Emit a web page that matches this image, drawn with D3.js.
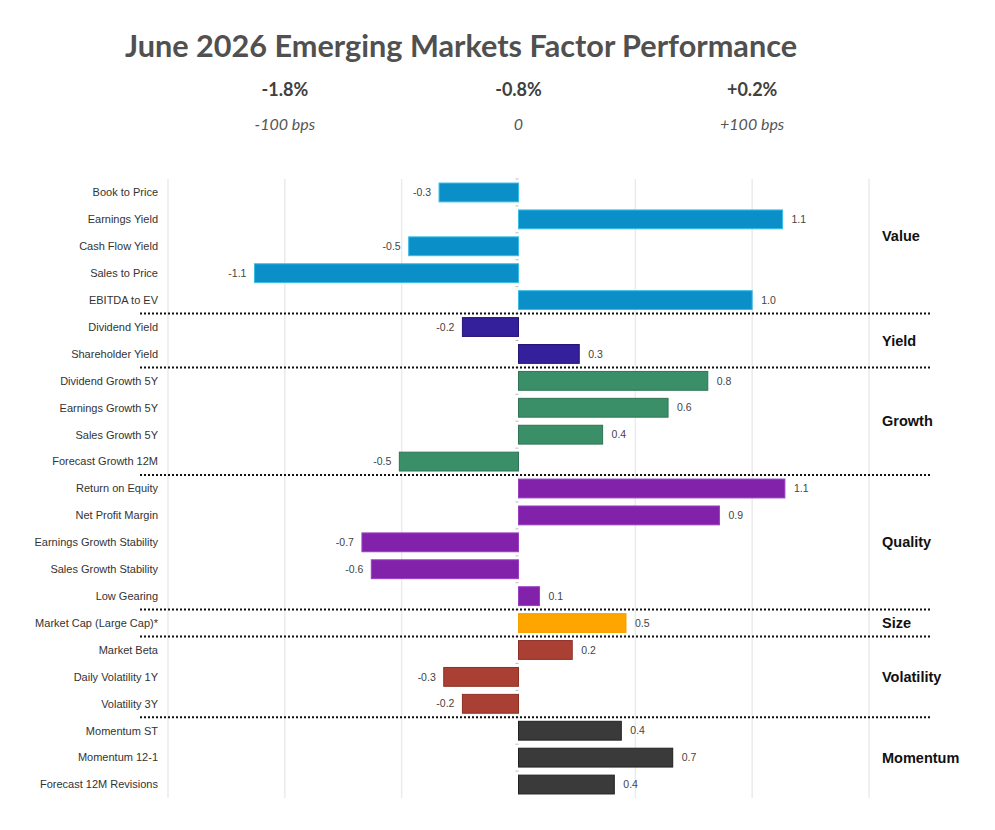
<!DOCTYPE html>
<html>
<head>
<meta charset="utf-8">
<script src="https://cdn.jsdelivr.net/npm/d3@7"></script>
<style>
  html, body { margin: 0; padding: 0; background: #ffffff; }
  svg { display: block; }
</style>
</head>
<body>
<svg id="chart" width="995" height="830"></svg>
<script>
// ---------- DATA ----------
const title = "June 2026 Emerging Markets Factor Performance";

const factors = [
  "Book to Price", "Earnings Yield", "Cash Flow Yield", "Sales to Price", "EBITDA to EV",
  "Dividend Yield", "Shareholder Yield",
  "Dividend Growth 5Y", "Earnings Growth 5Y", "Sales Growth 5Y", "Forecast Growth 12M",
  "Return on Equity", "Net Profit Margin", "Earnings Growth Stability", "Sales Growth Stability", "Low Gearing",
  "Market Cap (Large Cap)*",
  "Market Beta", "Daily Volatility 1Y", "Volatility 3Y",
  "Momentum ST", "Momentum 12-1", "Forecast 12M Revisions"
];

const factorValues = [
  -0.34, 1.13, -0.47, -1.13, 1.00,
  -0.24, 0.26,
  0.81, 0.64, 0.36, -0.51,
  1.14, 0.86, -0.67, -0.63, 0.09,
  0.46,
  0.23, -0.32, -0.24,
  0.44, 0.66, 0.41
];

const factorGroups = [
  "Value", "Value", "Value", "Value", "Value",
  "Yield", "Yield",
  "Growth", "Growth", "Growth", "Growth",
  "Quality", "Quality", "Quality", "Quality", "Quality",
  "Size",
  "Volatility", "Volatility", "Volatility",
  "Momentum", "Momentum", "Momentum"
];

const groupNames = ["Value", "Yield", "Growth", "Quality", "Size", "Volatility", "Momentum"];
const groupColors = ["#0a8fc9", "#33209a", "#3a8e68", "#8222aa", "#ffa500", "#aa3f33", "#3a3a3a"];
const groupStrokes = ["#39bde6", "#241577", "#2f7454", "#9a3ec4", "#f5a000", "#8f3027", "#222222"];

const headerPct = ["-1.8%", "-0.8%", "+0.2%"];
const headerBps = ["-100 bps", "0", "+100 bps"];
const headerAt = [-1, 0, 1];

const gridTicks = [-1.5, -1.0, -0.5, 0.5, 1.0, 1.5];

// ---------- LAYOUT ----------
const svg = d3.select("#chart");
svg.append("rect").attr("width", 995).attr("height", 830).attr("fill", "#ffffff");

const x = d3.scaleLinear().domain([-1.5, 1.5]).range([168, 869]);
const y = d3.scaleBand().domain(factors).range([179, 798]).paddingInner(0.3).paddingOuter(0.15);
const color = d3.scaleOrdinal().domain(groupNames).range(groupColors);
const stroke = d3.scaleOrdinal().domain(groupNames).range(groupStrokes);
const fmt = v => d3.format(".1f")(v).replace("\u2212", "-");

const rows = factors.map((f, i) => ({ name: f, value: factorValues[i], group: factorGroups[i] }));

// Title
svg.append("text")
  .attr("x", 461).attr("y", 57)
  .attr("text-anchor", "middle")
  .attr("font-family", "Lato, 'Open Sans', sans-serif")
  .attr("font-weight", "bold")
  .attr("font-size", 31)
  .attr("fill", "#505050")
  .attr("textLength", 672)
  .attr("lengthAdjust", "spacingAndGlyphs")
  .text(title);

// Header annotations
const hdr = svg.append("g");
headerAt.forEach((v, i) => {
  hdr.append("text")
    .attr("x", x(v)).attr("y", 96)
    .attr("text-anchor", "middle")
    .attr("font-family", "Lato, 'Open Sans', sans-serif")
    .attr("font-weight", "bold")
    .attr("font-size", 18)
    .attr("fill", "#404040")
    .text(headerPct[i]);
  hdr.append("text")
    .attr("x", x(v)).attr("y", 130)
    .attr("text-anchor", "middle")
    .attr("font-family", "Lato, 'Open Sans', sans-serif")
    .attr("font-style", "italic")
    .attr("font-size", 16)
    .attr("fill", "#555555")
    .text(headerBps[i]);
});

// Grid lines
const [y0, y1] = y.range();
svg.append("g").selectAll("line").data(gridTicks).join("line")
  .attr("x1", d => x(d)).attr("x2", d => x(d))
  .attr("y1", y0).attr("y2", y1)
  .attr("stroke", "#ebebeb").attr("stroke-width", 1.5);

// Zero axis ticks between rows
const step = y.step();
const gap = step * y.paddingInner() / 2;
svg.append("g").selectAll("line").data(factors).join("line")
  .attr("x1", x(0) - 3).attr("x2", x(0))
  .attr("y1", d => y(d) - gap).attr("y2", d => y(d) - gap)
  .attr("stroke", "#bbbbbb").attr("stroke-width", 1);

// Bars
svg.append("g").selectAll("rect").data(rows).join("rect")
  .attr("x", d => x(Math.min(0, d.value)))
  .attr("width", d => Math.abs(x(d.value) - x(0)))
  .attr("y", d => y(d.name))
  .attr("height", y.bandwidth())
  .attr("fill", d => color(d.group))
  .attr("stroke", d => stroke(d.group))
  .attr("stroke-width", 1);

// Value labels
svg.append("g").selectAll("text").data(rows).join("text")
  .attr("x", d => d.value >= 0 ? x(d.value) + 9 : x(d.value) - 8)
  .attr("y", d => y(d.name) + y.bandwidth() / 2)
  .attr("dy", "0.35em")
  .attr("text-anchor", d => d.value >= 0 ? "start" : "end")
  .attr("font-family", "'Liberation Sans', Arial, sans-serif")
  .attr("font-size", 10.5)
  .attr("fill", "#444444")
  .text(d => fmt(d.value));

// Category labels
svg.append("g").selectAll("text").data(rows).join("text")
  .attr("x", 158)
  .attr("y", d => y(d.name) + y.bandwidth() / 2)
  .attr("dy", "0.35em")
  .attr("text-anchor", "end")
  .attr("font-family", "'Liberation Sans', Arial, sans-serif")
  .attr("font-size", 11)
  .attr("fill", "#333333")
  .text(d => d.name);

// Group separators and labels
const groupInfo = groupNames.map(g => {
  const members = rows.filter(r => r.group === g);
  const first = members[0].name, last = members[members.length - 1].name;
  return { g, first, last, top: y(first) - gap, bottom: y(last) + y.bandwidth() + gap };
});

svg.append("g").selectAll("line").data(groupInfo.slice(1)).join("line")
  .attr("x1", 140).attr("x2", 930)
  .attr("y1", d => d.top).attr("y2", d => d.top)
  .attr("stroke", "#111111").attr("stroke-width", 2)
  .attr("stroke-dasharray", "2,2");

svg.append("g").selectAll("text").data(groupInfo).join("text")
  .attr("x", 882)
  .attr("y", d => (d.top + d.bottom) / 2 + (d.g === "Value" ? -10 : 0))
  .attr("dy", "0.35em")
  .attr("font-family", "'Liberation Sans', Arial, sans-serif")
  .attr("font-weight", "bold")
  .attr("font-size", 14.5)
  .attr("fill", "#111111")
  .text(d => d.g);
</script>
</body>
</html>
